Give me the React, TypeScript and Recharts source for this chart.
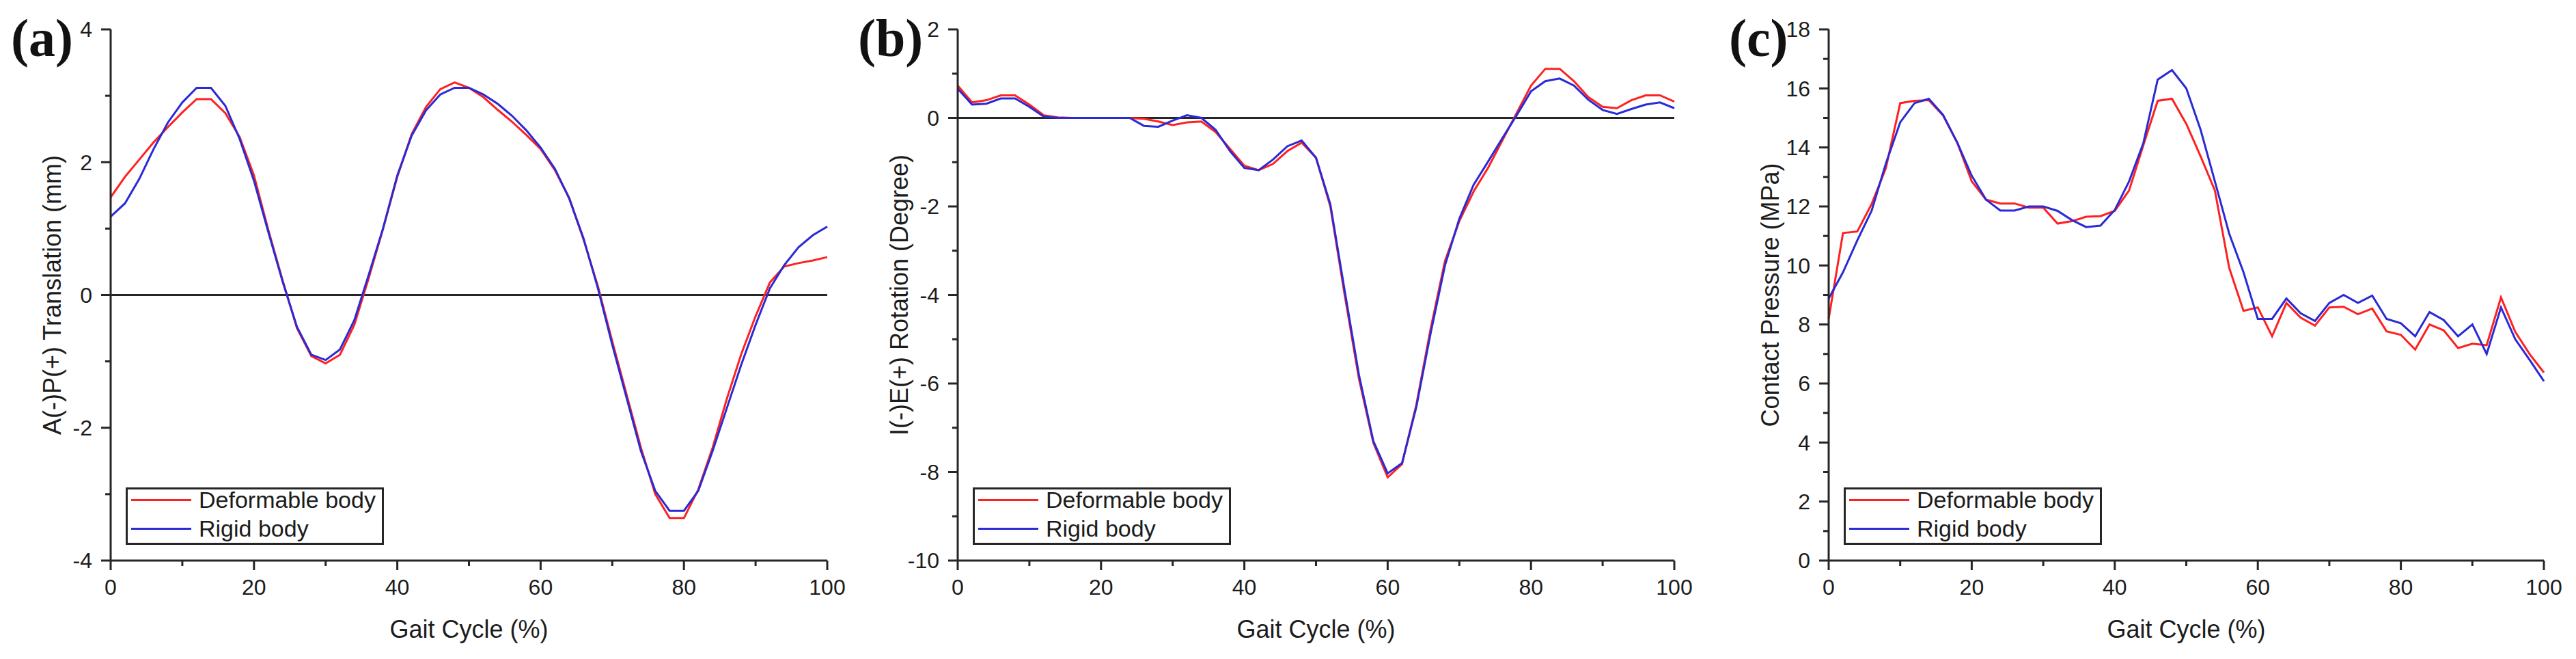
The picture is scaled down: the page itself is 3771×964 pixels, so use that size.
import React from "react";
import { LineChart, Line, XAxis, YAxis, ReferenceLine, Legend } from "recharts";

// gait cycle sample points (%)
const gait = [
  0, 2, 4, 6, 8, 10, 12, 14, 16, 18, 20, 22, 24, 26, 28, 30, 32, 34, 36, 38, 40, 42, 44, 46, 48, 50,
  52, 54, 56, 58, 60, 62, 64, 66, 68, 70, 72, 74, 76, 78, 80, 82, 84, 86, 88, 90, 92, 94, 96, 98, 100,
];

// (a) A(-)P(+) translation, mm
const apDeformable = [
  1.47, 1.78, 2.04, 2.3, 2.53, 2.75, 2.95, 2.95, 2.74, 2.38, 1.8, 0.98, 0.22, -0.5, -0.92, -1.03, -0.9,
  -0.45, 0.25, 0.99, 1.78, 2.42, 2.83, 3.1, 3.2, 3.12, 2.98, 2.79, 2.61, 2.41, 2.2, 1.88, 1.46, 0.83,
  0.13, -0.7, -1.5, -2.3, -3.0, -3.36, -3.36, -2.93, -2.3, -1.56, -0.89, -0.32, 0.19, 0.43, 0.48, 0.52,
  0.57,
];
const apRigid = [
  1.18, 1.38, 1.75, 2.2, 2.6, 2.9, 3.12, 3.12, 2.85, 2.35, 1.72, 0.95, 0.2, -0.48, -0.9, -0.98, -0.82,
  -0.38, 0.3, 1.0, 1.8, 2.4, 2.78, 3.02, 3.12, 3.12, 3.02, 2.88, 2.7, 2.48, 2.22, 1.9, 1.45, 0.85, 0.1,
  -0.75, -1.55, -2.35, -2.95, -3.25, -3.25, -2.95, -2.35, -1.7, -1.05, -0.45, 0.1, 0.45, 0.72, 0.9,
  1.03,
];

// (b) I(-)E(+) rotation, degree
const ieDeformable = [
  0.73, 0.35, 0.4, 0.51, 0.51, 0.3, 0.06, 0.01, 0, 0, 0, 0, 0, -0.02, -0.08, -0.16, -0.1, -0.08, -0.32,
  -0.7, -1.08, -1.18, -1.04, -0.75, -0.56, -0.9, -2.0, -4.0, -5.9, -7.34, -8.12, -7.82, -6.48, -4.76,
  -3.23, -2.33, -1.66, -1.13, -0.51, 0.11, 0.73, 1.11, 1.11, 0.83, 0.47, 0.25, 0.22, 0.4, 0.51, 0.51,
  0.37,
];
const ieRigid = [
  0.66, 0.3, 0.32, 0.44, 0.44, 0.25, 0.03, 0, 0, 0, 0, 0, 0, -0.18, -0.2, -0.06, 0.06, 0.0, -0.27,
  -0.75, -1.13, -1.18, -0.94, -0.64, -0.51, -0.9, -1.95, -3.9, -5.81, -7.3, -8.03, -7.8, -6.53, -4.86,
  -3.33, -2.28, -1.51, -0.99, -0.46, 0.06, 0.6, 0.83, 0.89, 0.73, 0.41, 0.18, 0.09, 0.2, 0.3, 0.35,
  0.22,
];

// (c) contact pressure, MPa
const cpDeformable = [
  8.19, 11.1, 11.15, 12.08, 13.3, 15.5, 15.58, 15.6, 15.08, 14.15, 12.85, 12.23, 12.1, 12.1, 11.96,
  11.96, 11.42, 11.5, 11.65, 11.67, 11.85, 12.54, 14.08, 15.58, 15.65, 14.8, 13.7, 12.54, 9.92, 8.46,
  8.58, 7.6, 8.73, 8.23, 7.96, 8.58, 8.6, 8.35, 8.54, 7.77, 7.65, 7.15, 8.0, 7.8, 7.2, 7.35, 7.3, 8.92,
  7.75, 7.0, 6.37,
];
const cpRigid = [
  8.88, 9.77, 10.85, 11.85, 13.46, 14.85, 15.5, 15.65, 15.1, 14.15, 13.04, 12.23, 11.86, 11.86, 12.0,
  12.0, 11.85, 11.54, 11.3, 11.35, 11.88, 12.85, 14.15, 16.3, 16.62, 16.0, 14.6, 12.85, 11.08, 9.77,
  8.19, 8.19, 8.88, 8.38, 8.12, 8.73, 9.0, 8.73, 8.98, 8.19, 8.04, 7.6, 8.42, 8.15, 7.6, 8.0, 7.0, 8.58,
  7.5, 6.8, 6.08,
];

const xTicks = [0, 10, 20, 30, 40, 50, 60, 70, 80, 90, 100];
const apTicks = [-4, -3, -2, -1, 0, 1, 2, 3, 4];
const ieTicks = [-10, -9, -8, -7, -6, -5, -4, -3, -2, -1, 0, 1, 2];
const cpTicks = [0, 1, 2, 3, 4, 5, 6, 7, 8, 9, 10, 11, 12, 13, 14, 15, 16, 17, 18];

const AXIS = "#262626";
const TEXT = "#1c1c1c";
const RED = "#ff2121";
const BLUE = "#2a2ad6";
const SANS = "'Liberation Sans', Arial, sans-serif";
const SERIF = "'Liberation Serif', 'Times New Roman', serif";

const W = 1250;
const H = 964;
const PLOT_L = 162;
const PLOT_T = 43;
const PLOT_B = 820;
const TICK = 14;
const MINOR = 8;
const GAP = 13;

const makeRows = (a: number[], b: number[]) => gait.map((x, i) => ({ x, def: a[i], rig: b[i] }));

const XTick = (props: any) => {
  const { x, y, payload } = props;
  const v = payload.value;
  const major = v % 20 === 0;
  return (
    <g>
      <line x1={x} x2={x} y1={y} y2={y + (major ? TICK : MINOR)} stroke={AXIS} strokeWidth={3} />
      {major && (
        <text x={x} y={y + TICK + GAP} dy="0.71em" textAnchor="middle" fill={TEXT} fontSize={32} fontFamily={SANS}>
          {v}
        </text>
      )}
    </g>
  );
};

const makeYTick = (isMajor: (v: number) => boolean) => (props: any) => {
  const { x, y, payload } = props;
  const v = payload.value;
  const major = isMajor(v);
  return (
    <g>
      <line x1={x} x2={x - (major ? TICK : MINOR)} y1={y} y2={y} stroke={AXIS} strokeWidth={3} />
      {major && (
        <text x={x - TICK - GAP} y={y} dy="0.355em" textAnchor="end" fill={TEXT} fontSize={32} fontFamily={SANS}>
          {v}
        </text>
      )}
    </g>
  );
};

const LegendBox = (props: any) => {
  const items = (props.payload || []).map((p: any) => ({ label: p.value, color: p.color }));
  return (
    <div
      style={{
        boxSizing: "border-box",
        width: 378,
        height: 84,
        border: `3px solid ${AXIS}`,
        background: "#fff",
        position: "relative",
        fontFamily: SANS,
        fontSize: 34,
        color: TEXT,
      }}
    >
      {items.map((it: any, i: number) => (
        <div
          key={it.label}
          style={{ position: "absolute", left: 5, top: i === 0 ? 0 : 42, height: 30, display: "flex", alignItems: "center", whiteSpace: "nowrap" }}
        >
          <span style={{ display: "inline-block", width: 88, height: 3, background: it.color }} />
          <span style={{ marginLeft: 11, lineHeight: "30px" }}>{it.label}</span>
        </div>
      ))}
    </div>
  );
};

type PanelProps = {
  left: number;
  right: number;
  letter: string;
  yLabel: string;
  rows: any[];
  yDomain: [number, number];
  yTicks: number[];
  zeroLine: boolean;
};

const Panel = ({ left, right, letter, yLabel, rows, yDomain, yTicks, zeroLine }: PanelProps) => {
  const plotR = W - right;
  const xTitle = () => (
    <text x={(PLOT_L + plotR) / 2} y={933} textAnchor="middle" fill={TEXT} fontSize={36} fontFamily={SANS}>
      Gait Cycle (%)
    </text>
  );
  const yTitle = () => (
    <text
      x={76}
      y={(PLOT_T + PLOT_B) / 2}
      transform={`rotate(-90 76 ${(PLOT_T + PLOT_B) / 2})`}
      textAnchor="middle"
      dominantBaseline="central"
      fill={TEXT}
      fontSize={36}
      fontFamily={SANS}
    >
      {yLabel}
    </text>
  );
  return (
    <div style={{ position: "absolute", left, top: 0, width: W, height: H }}>
      <LineChart width={W} height={H} data={rows} margin={{ top: PLOT_T, right, bottom: 0, left: PLOT_L - 100 }}>
        <XAxis
          dataKey="x"
          type="number"
          domain={[0, 100]}
          ticks={xTicks}
          interval={0}
          height={H - PLOT_B}
          tickSize={0}
          tickMargin={0}
          tickLine={false}
          axisLine={{ stroke: AXIS, strokeWidth: 3 }}
          tick={XTick}
          label={{ value: "Gait Cycle (%)", content: xTitle }}
        />
        <YAxis
          type="number"
          domain={yDomain}
          ticks={yTicks}
          interval={0}
          width={100}
          tickSize={0}
          tickMargin={0}
          tickLine={false}
          axisLine={{ stroke: AXIS, strokeWidth: 3 }}
          tick={makeYTick((v) => v % 2 === 0)}
          label={{ value: yLabel, content: yTitle }}
        />
        {zeroLine && <ReferenceLine y={0} stroke={AXIS} strokeWidth={3} />}
        <Line type="linear" dataKey="def" name="Deformable body" stroke={RED} strokeWidth={3} dot={false} isAnimationActive={false} />
        <Line type="linear" dataKey="rig" name="Rigid body" stroke={BLUE} strokeWidth={3} dot={false} isAnimationActive={false} />
        <Legend
          layout="vertical"
          align="center"
          verticalAlign="middle"
          content={LegendBox}
          wrapperStyle={{ position: "absolute", left: 184, top: 713, width: 378, height: 84 }}
        />
      </LineChart>
      <div
        style={{
          position: "absolute",
          left: 16,
          top: 8,
          fontFamily: SERIF,
          fontWeight: "bold",
          fontSize: 78,
          lineHeight: "96px",
          color: "#111",
        }}
      >
        {letter}
      </div>
    </div>
  );
};

export default function App() {
  return (
    <div style={{ position: "absolute", left: 0, top: 0, width: 3771, height: 964, background: "#fff", overflow: "hidden" }}>
      <Panel
        left={0}
        right={39}
        letter="(a)"
        yLabel="A(-)P(+) Translation (mm)"
        rows={makeRows(apDeformable, apRigid)}
        yDomain={[-4, 4]}
        yTicks={apTicks}
        zeroLine
      />
      <Panel
        left={1240}
        right={39}
        letter="(b)"
        yLabel="I(-)E(+) Rotation (Degree)"
        rows={makeRows(ieDeformable, ieRigid)}
        yDomain={[-10, 2]}
        yTicks={ieTicks}
        zeroLine
      />
      <Panel
        left={2515}
        right={41}
        letter="(c)"
        yLabel="Contact Pressure (MPa)"
        rows={makeRows(cpDeformable, cpRigid)}
        yDomain={[0, 18]}
        yTicks={cpTicks}
        zeroLine={false}
      />
    </div>
  );
}
